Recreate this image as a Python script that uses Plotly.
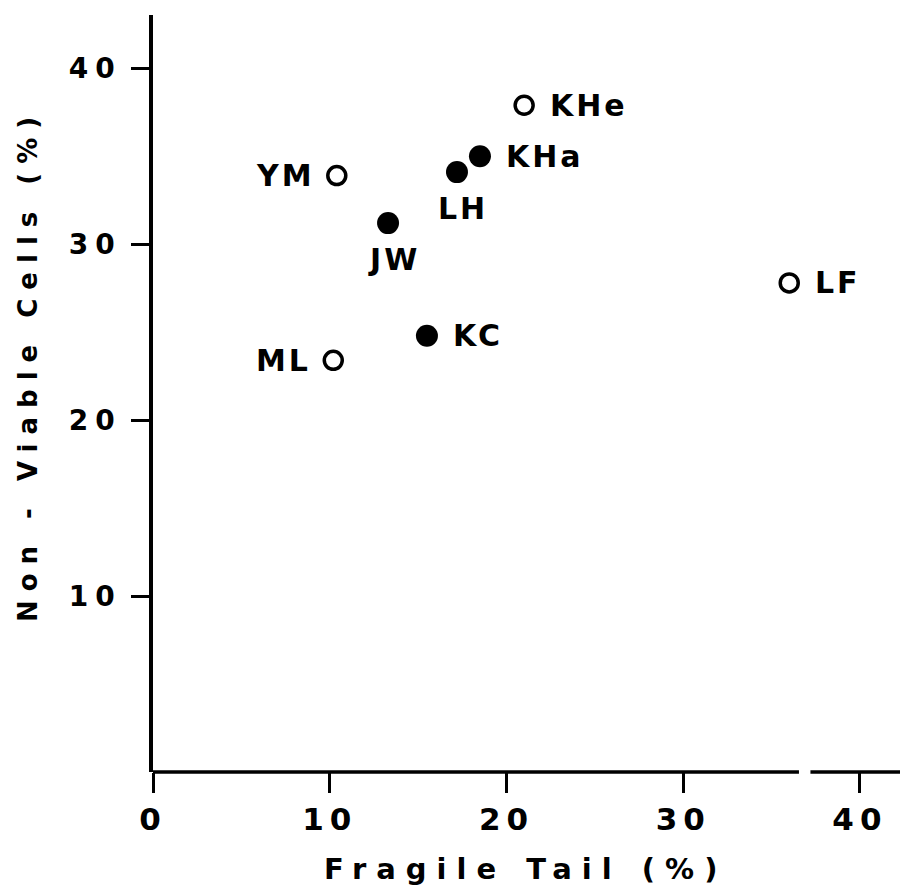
import plotly.graph_objects as go

# ---- data ----
subjects = ["KHe", "KHa", "LH", "YM", "JW", "KC", "ML", "LF"]
fragile_tail = [21.0, 18.5, 17.2, 10.4, 13.3, 15.5, 10.2, 36.0]
non_viable = [37.9, 35.0, 34.1, 33.9, 31.2, 24.8, 23.4, 27.8]
filled = [False, True, True, False, True, True, False, False]

x_tickvals = [0, 10, 20, 30, 40]
x_ticktext = ["0", "10", "20", "30", "40"]
y_tickvals = [10, 20, 30, 40]
y_ticktext = ["10", "20", "30", "40"]

x_title = "Fragile Tail (%)"
y_title = "Non - Viable Cells (%)"

# ---- label placement (style) ----
placement = {"KHe": "right", "KHa": "right", "LH": "below", "YM": "left",
             "JW": "below", "KC": "right", "ML": "left", "LF": "right"}

FONT = "DejaVu Sans"


def spaced(t, px):
    return f'<span style="letter-spacing:{px}px">{t}</span>'


fig = go.Figure()

ox = [x for x, f in zip(fragile_tail, filled) if not f]
oy = [y for y, f in zip(non_viable, filled) if not f]
fx = [x for x, f in zip(fragile_tail, filled) if f]
fy = [y for y, f in zip(non_viable, filled) if f]

fig.add_trace(go.Scatter(x=ox, y=oy, mode="markers", showlegend=False,
                         marker=dict(size=18, color="white",
                                     line=dict(color="black", width=3.5))))
fig.add_trace(go.Scatter(x=fx, y=fy, mode="markers", showlegend=False,
                         marker=dict(size=22, color="black",
                                     line=dict(width=0))))

annotations = []
for name, x, y in zip(subjects, fragile_tail, non_viable):
    p = placement[name]
    a = dict(x=x, y=y, xref="x", yref="y", text=spaced(name, 3), showarrow=False,
             font=dict(family=FONT, size=30, color="black", weight=700))
    if p == "right":
        a.update(xanchor="left", yanchor="middle", xshift=24, yshift=0)
    elif p == "left":
        a.update(xanchor="right", yanchor="middle", xshift=-20, yshift=0)
    else:
        a.update(xanchor="center", yanchor="middle", xshift=6, yshift=-36)
    annotations.append(a)

annotations.append(dict(x=0.494, y=-0.128, xref="paper", yref="paper",
                        text=spaced(x_title, 10), showarrow=False,
                        xanchor="center", yanchor="middle",
                        font=dict(family=FONT, size=29, color="black", weight=700)))
annotations.append(dict(x=-0.1656, y=0.5375, xref="paper", yref="paper",
                        text=spaced(y_title, 9), showarrow=False, textangle=-90,
                        xanchor="center", yanchor="middle",
                        font=dict(family=FONT, size=26, color="black", weight=700)))

shapes = [
    dict(type="line", xref="x", yref="paper", x0=0, x1=36.55, y0=0, y1=0,
         line=dict(color="black", width=3.5)),
    dict(type="line", xref="x", yref="paper", x0=37.2, x1=42.72, y0=0, y1=0,
         line=dict(color="black", width=3.5)),
]

# page body has an 8px default margin, so the figure is 8px smaller
fig.update_layout(
    width=900, height=878,
    margin=dict(l=145, r=0, t=7, b=114),
    paper_bgcolor="white", plot_bgcolor="white",
    annotations=annotations, shapes=shapes,
    xaxis=dict(range=[0, 42.72], showgrid=False, zeroline=False, showline=False,
               tickvals=x_tickvals, ticktext=[spaced(t, 6) for t in x_ticktext],
               ticks="outside", ticklen=20, tickwidth=3, tickcolor="black",
               ticklabelstandoff=0,
               tickfont=dict(family=FONT, size=31, color="black", weight=700)),
    yaxis=dict(range=[0, 43.03], showgrid=False, zeroline=False, showline=True,
               linecolor="black", linewidth=3.5,
               tickvals=y_tickvals, ticktext=[spaced(t, 7) for t in y_ticktext],
               ticks="outside", ticklen=18, tickwidth=3, tickcolor="black",
               ticklabelstandoff=4,
               tickfont=dict(family=FONT, size=28, color="black", weight=700)),
)

fig.write_html("out.html")
